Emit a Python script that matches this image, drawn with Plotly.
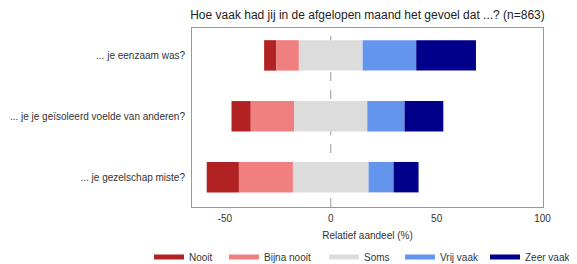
import plotly.graph_objects as go

questions = ["... je eenzaam was?", "... je je geïsoleerd voelde van anderen?", "... je gezelschap miste?"]
nooit = [5.8, 9.1, 15.2]
bijna_nooit = [10.6, 20.5, 25.5]
soms = [30.1, 34.5, 35.7]
vrij_vaak = [25.3, 17.6, 11.8]
zeer_vaak = [28.2, 18.3, 11.8]
x_ticks = [-50, 0, 50, 100]

colors = {"Nooit": "#B22222", "Bijna nooit": "#F08080", "Soms": "#DCDCDC",
          "Vrij vaak": "#6495ED", "Zeer vaak": "#00008B"}

# diverging bases
base_nooit = [-(a + b + s / 2) for a, b, s in zip(nooit, bijna_nooit, soms)]
base_bijna = [-(b + s / 2) for b, s in zip(bijna_nooit, soms)]
base_soms = [-s / 2 for s in soms]
base_vrij = [s / 2 for s in soms]
base_zeer = [s / 2 + v for s, v in zip(soms, vrij_vaak)]

series = [
    ("Nooit", nooit, base_nooit),
    ("Bijna nooit", bijna_nooit, base_bijna),
    ("Soms", soms, base_soms),
    ("Vrij vaak", vrij_vaak, base_vrij),
    ("Zeer vaak", zeer_vaak, base_zeer),
]

# the page body adds an 8 px offset; the figure is sized/positioned to compensate
OFF = 8
W, H = 577 - OFF, 264 - OFF
legend_text_x = [189, 264, 364, 440, 525]  # page px

fig = go.Figure()
legend_layout = {}
for i, (name, vals, base) in enumerate(series):
    lg = "legend" if i == 0 else f"legend{i + 1}"
    fig.add_trace(go.Bar(
        y=questions, x=vals, base=base, orientation="h", name=name,
        marker=dict(color=colors[name], line=dict(width=0)),
        width=0.5, showlegend=False, hoverinfo="skip",
    ))
    fig.add_trace(go.Scatter(
        x=[None], y=[None], mode="lines", name=name, legend=lg,
        line=dict(color=colors[name], width=5), showlegend=True,
    ))
    legend_layout[lg] = dict(
        orientation="h", xref="container", yref="container",
        x=(legend_text_x[i] - OFF - 40) / W, xanchor="left",
        y=1 - (258 - OFF - 1) / H, yanchor="middle",
        font=dict(size=10, color="#333333"), itemwidth=30,
        bgcolor="rgba(0,0,0,0)", borderwidth=0,
    )

fig.add_vline(x=0, line=dict(color="#999999", width=1, dash="dash"), layer="below")

fig.update_layout(
    width=W, height=H,
    barmode="overlay",
    plot_bgcolor="white", paper_bgcolor="white",
    margin=dict(l=192 - OFF, r=34, t=28 - OFF, b=57, autoexpand=False),
    font=dict(family="Liberation Sans, Arial, sans-serif", size=10, color="#333333"),
    title=dict(text="Hoe vaak had jij in de afgelopen maand het gevoel dat ...? (n=863)",
               x=0.5, xref="paper", xanchor="center", y=1 - (15 - OFF) / H, yanchor="middle",
               font=dict(size=12, color="#222222")),
    xaxis=dict(range=[-65.5, 100.2], tickvals=x_ticks, ticktext=[str(v) for v in x_ticks],
               showgrid=False, zeroline=False, showline=True, mirror=True,
               linecolor="#999999", linewidth=1, ticks="", automargin=False,
               ticklabelstandoff=2,
               title=dict(text="Relatief aandeel (%)", standoff=8, font=dict(size=10))),
    yaxis=dict(categoryorder="array", categoryarray=questions[::-1], range=[-0.49, 2.45],
               showgrid=False, zeroline=False, showline=True, mirror=True, automargin=False,
               linecolor="#999999", linewidth=1, ticks="", ticklabelstandoff=4,
               tickfont=dict(size=10)),
    **legend_layout,
)

fig.write_html("out.html")
